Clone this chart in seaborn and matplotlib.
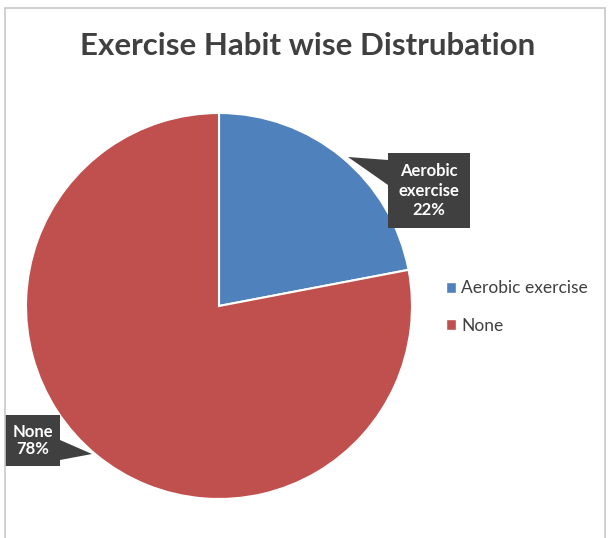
import matplotlib
matplotlib.use("Agg")
import matplotlib.pyplot as plt
from matplotlib.patches import Rectangle, Polygon
from matplotlib.lines import Line2D
import seaborn as sns

# Exercise habit shares
categories = ["Aerobic exercise", "None"]
shares = [22, 78]
colors = ["#4F81BD", "#C0504D"]

sns.set_style("white")
plt.rcParams["font.family"] = ["Lato", "DejaVu Sans"]

W, H = 608, 538
fig = plt.figure(figsize=(W / 100, H / 100), dpi=100)
fig.patch.set_facecolor("white")

# frame around the chart area
for xs, ys in [((5 / W, 5 / W), (0, 1 - 8 / H)),
               ((5 / W, 605 / W), (1 - 8 / H, 1 - 8 / H)),
               ((605 / W, 605 / W), (0, 1 - 8 / H))]:
    fig.add_artist(Line2D(xs, ys, color="#C8C8C8", lw=1.2, transform=fig.transFigure))

fig.text(308 / W, 1 - 46 / H, "Exercise Habit wise Distrubation",
         ha="center", va="center", fontsize=22.5, fontweight="bold", color="#404040")

# pie centred at (219, 306) px with radius 193 px
cx, cy, r = 219, 306, 193
ax = fig.add_axes([(cx - r) / W, (H - cy - r) / H, 2 * r / W, 2 * r / H])
wedges, _ = ax.pie(shares, colors=colors, startangle=90, counterclock=False,
                   radius=1.0, wedgeprops=dict(edgecolor="white", linewidth=1.5))
ax.set_xlim(-1, 1)
ax.set_ylim(-1, 1)
ax.set_aspect("equal")
ax.axis("off")


def px(x, y):
    return ((x - cx) / r, (cy - y) / r)


def callout(box, tip, base, text, spacing):
    x0, y0, x1, y1 = box
    bl = px(x0, y1)
    w = (x1 - x0) / r
    h = (y1 - y0) / r
    ax.add_patch(Polygon([px(*tip), px(*base[0]), px(*base[1])], closed=True,
                         facecolor="#404040", edgecolor="none", zorder=4, clip_on=False))
    ax.add_patch(Rectangle(bl, w, h, facecolor="#404040", edgecolor="none",
                           zorder=5, clip_on=False))
    mx, my = px((x0 + x1) / 2, (y0 + y1) / 2)
    ax.text(mx, my, text, ha="center", va="center", color="white",
            fontsize=12, fontweight="bold", linespacing=spacing, zorder=6)


labels = [f"Aerobic\nexercise\n{shares[0]}%", f"None\n{shares[1]}%"]
callout((388, 153, 470, 228), (348, 157), ((388, 160), (388, 185)), labels[0], 1.3)
callout((5, 415, 60, 466), (92, 454), ((60, 440), (60, 460)), labels[1], 1.15)

handles = [Rectangle((0, 0), 1, 1, facecolor=c) for c in colors]
fig.legend(handles, categories, loc="center left",
           bbox_to_anchor=(430 / W, 1 - 307 / H), frameon=False,
           fontsize=12.5, labelcolor="#404040", handlelength=0.6, handleheight=0.6,
           handletextpad=0.3, labelspacing=1.25)

fig.savefig("out.png", dpi=100, facecolor="white")
